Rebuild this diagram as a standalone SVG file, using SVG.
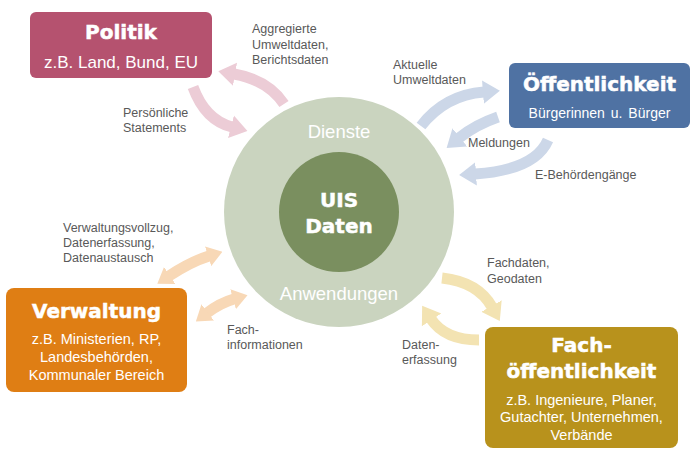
<svg xmlns="http://www.w3.org/2000/svg" width="700" height="457" viewBox="0 0 700 457">
<style>
.box{stroke:none}
.ttl{font-family:"DejaVu Sans",sans-serif;font-weight:bold;font-size:20px;fill:#fff;stroke:#fff;stroke-width:0.5;text-anchor:middle}
.sub{font-family:"Liberation Sans",Arial,sans-serif;font-size:14.5px;fill:#fff;text-anchor:middle}
.lbl{font-family:"Liberation Sans",Arial,sans-serif;font-size:12.5px;fill:#595959}
.ring{font-family:"Liberation Sans",Arial,sans-serif;font-size:18.5px;fill:#fff;text-anchor:middle}
.arr{fill:none;stroke-width:11}
</style>
<defs>
<marker id="hp" markerUnits="userSpaceOnUse" markerWidth="17" markerHeight="25" viewBox="0 0 16 22" refX="1" refY="11" orient="auto-start-reverse"><path d="M0,0 L16,11 L0,22 z" fill="#ecccd6"/></marker>
<marker id="hb" markerUnits="userSpaceOnUse" markerWidth="17" markerHeight="25" viewBox="0 0 16 22" refX="1" refY="11" orient="auto-start-reverse"><path d="M0,0 L16,11 L0,22 z" fill="#ccd7e8"/></marker>
<marker id="ho" markerUnits="userSpaceOnUse" markerWidth="15" markerHeight="21" viewBox="0 0 16 22" refX="1" refY="11" orient="auto-start-reverse"><path d="M0,0 L16,11 L0,22 z" fill="#f8d8b6"/></marker>
<marker id="hy" markerUnits="userSpaceOnUse" markerWidth="17" markerHeight="25" viewBox="0 0 16 22" refX="1" refY="11" orient="auto-start-reverse"><path d="M0,0 L16,11 L0,22 z" fill="#f3e3b2"/></marker>
</defs>

<g id="uis">
<circle cx="339" cy="212" r="115" fill="#cad4bf"/>
<circle cx="339" cy="212" r="60" fill="#7a8f5f"/>
<text class="ring" x="339" y="138">Dienste</text>
<text class="ring" x="339" y="300">Anwendungen</text>
<text class="ttl" x="339" y="207">UIS</text>
<text class="ttl" x="339" y="233">Daten</text>
</g>

<g id="connectors">
<path class="arr" stroke="#ecccd6" d="M284,104 Q268,80 234,74" marker-end="url(#hp)"/>
<path class="arr" stroke="#ecccd6" d="M193,87 Q205,120 232,127" marker-end="url(#hp)"/>
<path class="arr" stroke="#ccd7e8" d="M421,126 Q445,95 484,92" marker-end="url(#hb)"/>
<path class="arr" stroke="#ccd7e8" d="M498,117 Q475,125 459,138" marker-end="url(#hb)"/>
<path class="arr" stroke="#ccd7e8" d="M548,140 Q535,170 475,174" marker-end="url(#hb)"/>
<path class="arr" stroke="#f8d8b6" stroke-width="9.5" d="M169,276 Q190,262 209,256" marker-start="url(#ho)" marker-end="url(#ho)"/>
<path class="arr" stroke="#f8d8b6" stroke-width="9.5" d="M207,313 Q220,303 234,299" marker-start="url(#ho)" marker-end="url(#ho)"/>
<path class="arr" stroke="#f3e3b2" d="M442,278 Q478,282 492,307" marker-end="url(#hy)"/>
<path class="arr" stroke="#f3e3b2" d="M479,340 Q445,340 431,319" marker-end="url(#hy)"/>
</g>

<g id="labels">
<text class="lbl" x="252" y="33">Aggregierte</text>
<text class="lbl" x="252" y="49">Umweltdaten,</text>
<text class="lbl" x="252" y="64">Berichtsdaten</text>
<text class="lbl" x="123" y="117">Persönliche</text>
<text class="lbl" x="123" y="132">Statements</text>
<text class="lbl" x="393" y="69">Aktuelle</text>
<text class="lbl" x="393" y="84">Umweltdaten</text>
<text class="lbl" x="468" y="147">Meldungen</text>
<text class="lbl" x="535" y="179">E-Behördengänge</text>
<text class="lbl" x="63" y="232">Verwaltungsvollzug,</text>
<text class="lbl" x="63" y="247">Datenerfassung,</text>
<text class="lbl" x="63" y="262">Datenaustausch</text>
<text class="lbl" x="227" y="334">Fach-</text>
<text class="lbl" x="227" y="349">informationen</text>
<text class="lbl" x="487" y="267">Fachdaten,</text>
<text class="lbl" x="487" y="283">Geodaten</text>
<text class="lbl" x="402" y="349">Daten-</text>
<text class="lbl" x="402" y="364">erfassung</text>
</g>

<g id="politik">
<rect class="box" x="30" y="12" width="182" height="66" rx="6" fill="#b5526f"/>
<text class="ttl" x="121" y="39">Politik</text>
<text class="sub" x="121" y="68" style="font-size:17px">z.B. Land, Bund, EU</text>
</g>

<g id="oeffentlichkeit">
<rect class="box" x="509" y="63" width="181" height="65" rx="6" fill="#4f72a3"/>
<text class="ttl" x="599.5" y="91">Öffentlichkeit</text>
<text class="sub" x="599.5" y="118" style="font-size:14px;word-spacing:2px">Bürgerinnen u. Bürger</text>
</g>

<g id="verwaltung">
<rect class="box" x="6" y="288" width="181" height="104" rx="8" fill="#df7e14"/>
<text class="ttl" x="96.5" y="318">Verwaltung</text>
<text class="sub" x="96.5" y="344">z.B. Ministerien,  RP,</text>
<text class="sub" x="96.5" y="362">Landesbehörden,</text>
<text class="sub" x="96.5" y="380">Kommunaler Bereich</text>
</g>

<g id="fachoeffentlichkeit">
<rect class="box" x="485" y="327" width="193" height="121" rx="8" fill="#b8921c"/>
<text class="ttl" x="581.5" y="352">Fach-</text>
<text class="ttl" x="581.5" y="378">öffentlichkeit</text>
<text class="sub" x="581.5" y="405">z.B. Ingenieure, Planer,</text>
<text class="sub" x="581.5" y="422">Gutachter, Unternehmen,</text>
<text class="sub" x="581.5" y="440">Verbände</text>
</g>
</svg>
